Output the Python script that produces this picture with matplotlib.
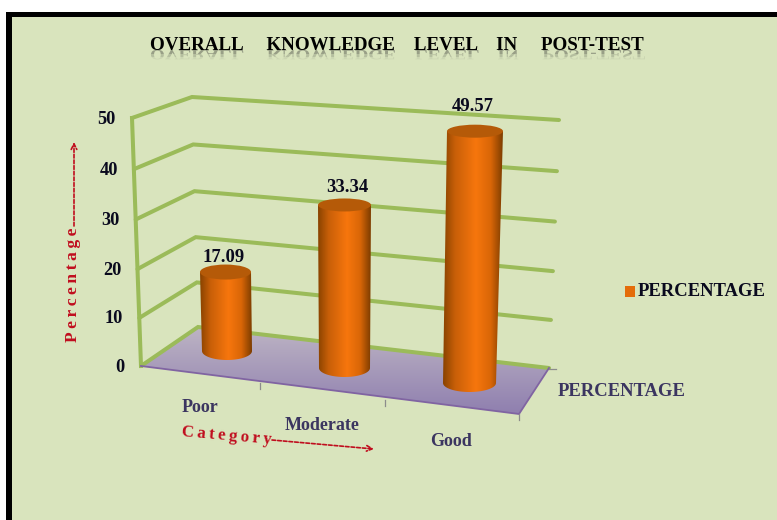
import numpy as np
import matplotlib
matplotlib.use('Agg')
import matplotlib.pyplot as plt
from matplotlib.patches import Polygon, Rectangle, PathPatch, Ellipse
from matplotlib.colors import LinearSegmentedColormap
from matplotlib.font_manager import FontProperties
from matplotlib.textpath import TextPath
from matplotlib.transforms import Affine2D

plt.rcParams['font.family'] = ['Liberation Serif', 'DejaVu Serif']
plt.rcParams['font.weight'] = 'bold'

# data
categories = ['Poor', 'Moderate', 'Good']
percentages = [17.09, 33.34, 49.57]
y_ticks = [0, 10, 20, 30, 40, 50]
series_name = 'PERCENTAGE'
title = 'OVERALL     KNOWLEDGE    LEVEL    IN     POST-TEST'

# picture layout, in pixels
bg = '#D9E4BD'
green = '#9BBB59'
red = '#C00D1E'
slate = '#3B3560'
ink = '#0A0A1E'

# corners of the 3d box at value 0 and value 50
front = [(141, 366), (132, 118)]
back = [(198, 327), (192, 97)]
right = [(549, 368), (559, 120)]
floor_near = (519, 414)

# one cylinder per category
base_x = [227, 344.5, 469.5]
base_y = [351, 368, 383]
lean = [-1.5, 0, 5.5]
px_per_unit = [4.62, 4.89, 5.08]
top_half_w = [25.5, 26.5, 28]
base_half_w = [25, 25.5, 26.5]
top_half_h = [7.5, 6.5, 6.5]
base_half_h = [9, 9, 9]
label_dx = [-1.5, 2.5, -2]
label_dy = [-15, -17, -25]
cat_label_pos = [(200.5, 407), (322, 426), (451, 441)]


def on_wall(corner, value):
    # slight perspective going up the wall
    t = value / 50
    t = t / (1 + 0.04 * (1 - t))
    (x0, y0), (x1, y1) = corner
    return x0 + (x1 - x0) * t, y0 + (y1 - y0) * t


fig = plt.figure(figsize=(7.77, 5.2), dpi=100, facecolor='white')
ax = fig.add_axes([0, 0, 1, 1])
ax.axis('off')

# black frame and panel
ax.add_patch(Rectangle((6, 12), 780, 520, fc='black', ec='none', zorder=0))
ax.add_patch(Rectangle((12, 17), 780, 520, fc=bg, ec='none', zorder=0.5))

# title with faded reflection
ax.text(150, 50, title, fontsize=13.7, color='black', ha='left', va='baseline', zorder=5)
fp = FontProperties(family='Liberation Serif', weight='bold')
title_path = TextPath((0, 0), title, size=19.03, prop=fp)
title_path = title_path.transformed(Affine2D().scale(1, 0.75).translate(150, 50))
for band, alpha in zip([4, 7, 10], [0.22, 0.14, 0.08]):
    p = PathPatch(title_path, fc='#333333', ec='none', alpha=alpha, zorder=4)
    ax.add_patch(p)
    p.set_clip_path(Rectangle((140, 50), 520, band, transform=ax.transData))

# floor
floor_pts = [front[0], back[0], right[0], floor_near]
floor_cmap = LinearSegmentedColormap.from_list('floor', ['#BDB4C4', '#8F7FAF'])
floor_img = ax.imshow(np.linspace(0, 1, 100).reshape(-1, 1), cmap=floor_cmap, aspect='auto',
                      extent=(141, 549, 414, 327), zorder=1)
floor_patch = Polygon(floor_pts, closed=True, fc='none', ec='none', transform=ax.transData)
ax.add_patch(floor_patch)
floor_img.set_clip_path(floor_patch)
ax.plot([front[0][0], floor_near[0], right[0][0]], [front[0][1], floor_near[1], right[0][1]],
        color='#8064A2', lw=1.3, zorder=1.5)
for tx, ty in [(260, 383), (385, 400), (519, 414)]:
    ax.plot([tx, tx], [ty, ty + 6], color='#8C8C8C', lw=0.9, zorder=1.5)
ax.plot([549, 556], [369, 369], color='#8C8C8C', lw=0.9, zorder=1.5)

# gridlines and left edge
for v in y_ticks:
    fx, fy = on_wall(front, v)
    bx, by = on_wall(back, v)
    rx, ry = on_wall(right, v)
    ax.plot([fx, bx, rx], [fy, by, ry], color=green, lw=2.9, solid_capstyle='round',
            solid_joinstyle='miter', zorder=1.2)
    ax.text(fx - 16, fy + 1, str(v), fontsize=13.2, color=ink, ha='right', va='center', zorder=5)
ax.plot([front[0][0], front[1][0]], [front[0][1], front[1][1]], color=green, lw=2.9, zorder=1.3)

# cylinders
cyl_cmap = LinearSegmentedColormap.from_list(
    'cyl', [(0, '#8A4300'), (0.2, '#C85F08'), (0.55, '#F7760D'), (0.8, '#D96607'), (1, '#7E3D00')])
grad = np.linspace(0, 1, 200).reshape(1, -1)
for i, val in enumerate(percentages):
    cx, cy = base_x[i], base_y[i]
    tx = cx + lean[i]
    ty = cy - val * px_per_unit[i]
    bw, bh = base_half_w[i], base_half_h[i]
    tw, th = top_half_w[i], top_half_h[i]
    a = np.linspace(0, np.pi, 40)
    body = list(zip(cx + bw * np.cos(a), cy + bh * np.sin(a))) + [(tx - tw, ty), (tx + tw, ty)]
    body_patch = Polygon(body, closed=True, fc='none', ec='none', transform=ax.transData)
    ax.add_patch(body_patch)
    left = min(cx - bw, tx - tw)
    img = ax.imshow(grad, cmap=cyl_cmap, aspect='auto', zorder=2 + i * 0.1,
                    extent=(left, max(cx + bw, tx + tw), cy + bh, ty - th))
    img.set_clip_path(body_patch)
    ax.add_patch(Ellipse((tx, ty), 2 * tw, 2 * th, fc='#B55A08', ec='none', zorder=2.05 + i * 0.1))
    ax.text(tx + label_dx[i], ty + label_dy[i], f'{val:.2f}', fontsize=13.4, color=ink,
            ha='center', va='center', zorder=5)
    ax.text(cat_label_pos[i][0], cat_label_pos[i][1], categories[i], fontsize=13, color=slate,
            ha='center', va='center', zorder=5)

# depth axis name and legend
ax.text(622, 392, series_name, fontsize=13.4, color=slate, ha='center', va='center', zorder=5)
ax.add_patch(Rectangle((625, 286), 9.5, 11, fc='#E46C0A', ec='none', zorder=5))
ax.text(638, 292, series_name, fontsize=13.4, color=ink, ha='left', va='center', zorder=5)

# red axis captions with dashed arrows
ax.text(73, 342, '\u2009'.join('Percentage'), fontsize=12.6, color=red, rotation=90,
        ha='left', va='center', rotation_mode='anchor', zorder=5)
ax.annotate('', xy=(74, 142), xytext=(74, 226), zorder=5,
            arrowprops=dict(arrowstyle='->', color=red, lw=1.2, ls=(0, (2.2, 1.2)),
                            shrinkA=0, shrinkB=0))
ax.text(182, 432, '\u2009'.join('Category'), fontsize=12.2, color=red, rotation=-5,
        ha='left', va='center', rotation_mode='anchor', zorder=5)
ax.annotate('', xy=(374, 449), xytext=(272, 440), zorder=5,
            arrowprops=dict(arrowstyle='->', color=red, lw=1.2, ls=(0, (2.2, 1.2)),
                            shrinkA=0, shrinkB=0))

ax.set_xlim(0, 777)
ax.set_ylim(520, 0)
fig.savefig('out.png', dpi=100, facecolor='white')
